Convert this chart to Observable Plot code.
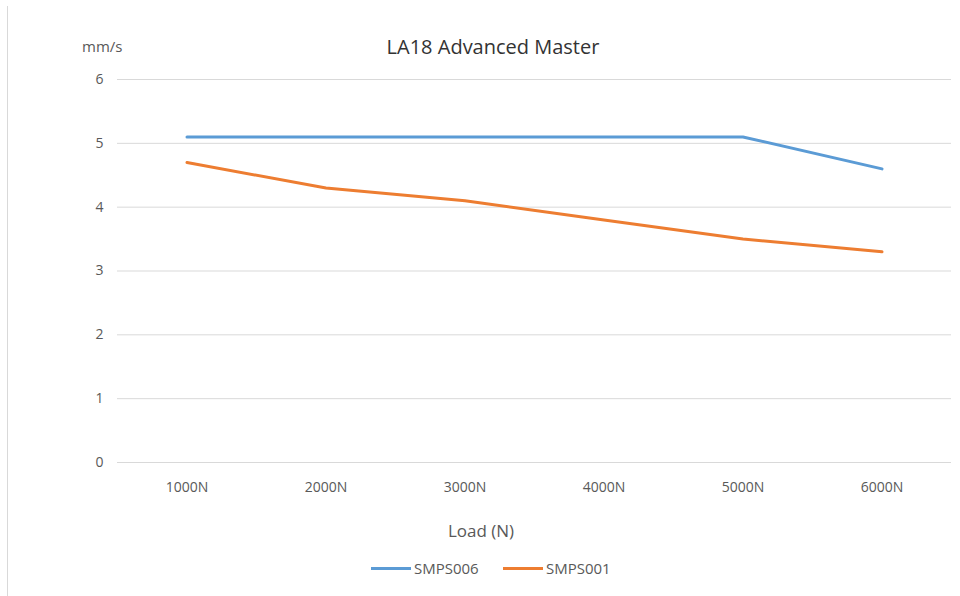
<!DOCTYPE html>
<html>
<head>
<meta charset="utf-8">
<script src="https://cdn.jsdelivr.net/npm/d3@7"></script>
<script src="https://cdn.jsdelivr.net/npm/@observablehq/plot@0.6"></script>
<style>
  html, body { margin: 0; padding: 0; background: #fff; }
  #wrap { position: relative; width: 960px; height: 596px; overflow: hidden; font-family: "Open Sans", "Noto Sans", sans-serif; }
  #wrap svg { position: absolute; left: 0; top: 0; }
  .abs { position: absolute; white-space: nowrap; }
  #border { position: absolute; left: 7px; top: 6px; width: 1px; height: 600px; background: #d9d9d9; }
  #title { left: 0; width: 986px; top: 33px; text-align: center; font-size: 20px; color: #333; }
  #unit { left: 82px; top: 36px; font-size: 15px; color: #595959; }
  #xlabel { left: 0; width: 962px; top: 519px; text-align: center; font-size: 17px; color: #595959; }
  .leg { position: absolute; top: 558px; font-size: 15px; color: #595959; display: flex; align-items: center; height: 20px; }
  .leg span.sw { display: inline-block; width: 40px; height: 3px; margin-right: 3px; }
</style>
</head>
<body>
<div id="wrap">
  <div id="border"></div>
</div>
<script>
const categories = ["1000N", "2000N", "3000N", "4000N", "5000N", "6000N"];
const seriesNames = ["SMPS006", "SMPS001"];
const smps006 = [5.1, 5.1, 5.1, 5.1, 5.1, 4.6];
const smps001 = [4.7, 4.3, 4.1, 3.8, 3.5, 3.3];
const yTicks = [0, 1, 2, 3, 4, 5, 6];
const colors = ["#5B9BD5", "#ED7D31"];

const rows = [];
categories.forEach((c, i) => {
  rows.push({ load: c, value: smps006[i], series: seriesNames[0] });
  rows.push({ load: c, value: smps001[i], series: seriesNames[1] });
});

const chart = Plot.plot({
  width: 960,
  height: 596,
  marginLeft: 117,
  marginRight: 9,
  marginTop: 79,
  marginBottom: 134,
  style: { fontFamily: "'Open Sans', 'Noto Sans', sans-serif", background: "transparent" },
  x: { domain: categories, type: "band", padding: 0 },
  y: { domain: [0, 6] },
  color: { domain: seriesNames, range: colors },
  marks: [
    Plot.ruleY(yTicks, { stroke: "#d9d9d9", strokeWidth: 1 }),
    Plot.axisY({ ticks: yTicks, tickFormat: d => String(d), tickSize: 0, tickPadding: 14, label: null, fontSize: 14, fill: "#595959" }),
    Plot.axisX({ tickSize: 0, tickPadding: 20, label: null, fontSize: 14, fill: "#595959" }),
    Plot.line(rows, { x: "load", y: "value", z: "series", stroke: "series", strokeWidth: 3 })
  ]
});

const wrap = document.getElementById("wrap");
wrap.appendChild(chart);

function addDiv(id, cls, text) {
  const d = document.createElement("div");
  if (id) d.id = id;
  d.className = cls;
  d.textContent = text;
  wrap.appendChild(d);
  return d;
}
addDiv("title", "abs", "LA18 Advanced Master");
addDiv("unit", "abs", "mm/s");
addDiv("xlabel", "abs", "Load (N)");

const legLefts = [371, 503];
seriesNames.forEach((s, i) => {
  const d = document.createElement("div");
  d.className = "leg";
  d.style.left = legLefts[i] + "px";
  const sw = document.createElement("span");
  sw.className = "sw";
  sw.style.background = colors[i];
  d.appendChild(sw);
  d.appendChild(document.createTextNode(s));
  wrap.appendChild(d);
});
</script>
</body>
</html>
